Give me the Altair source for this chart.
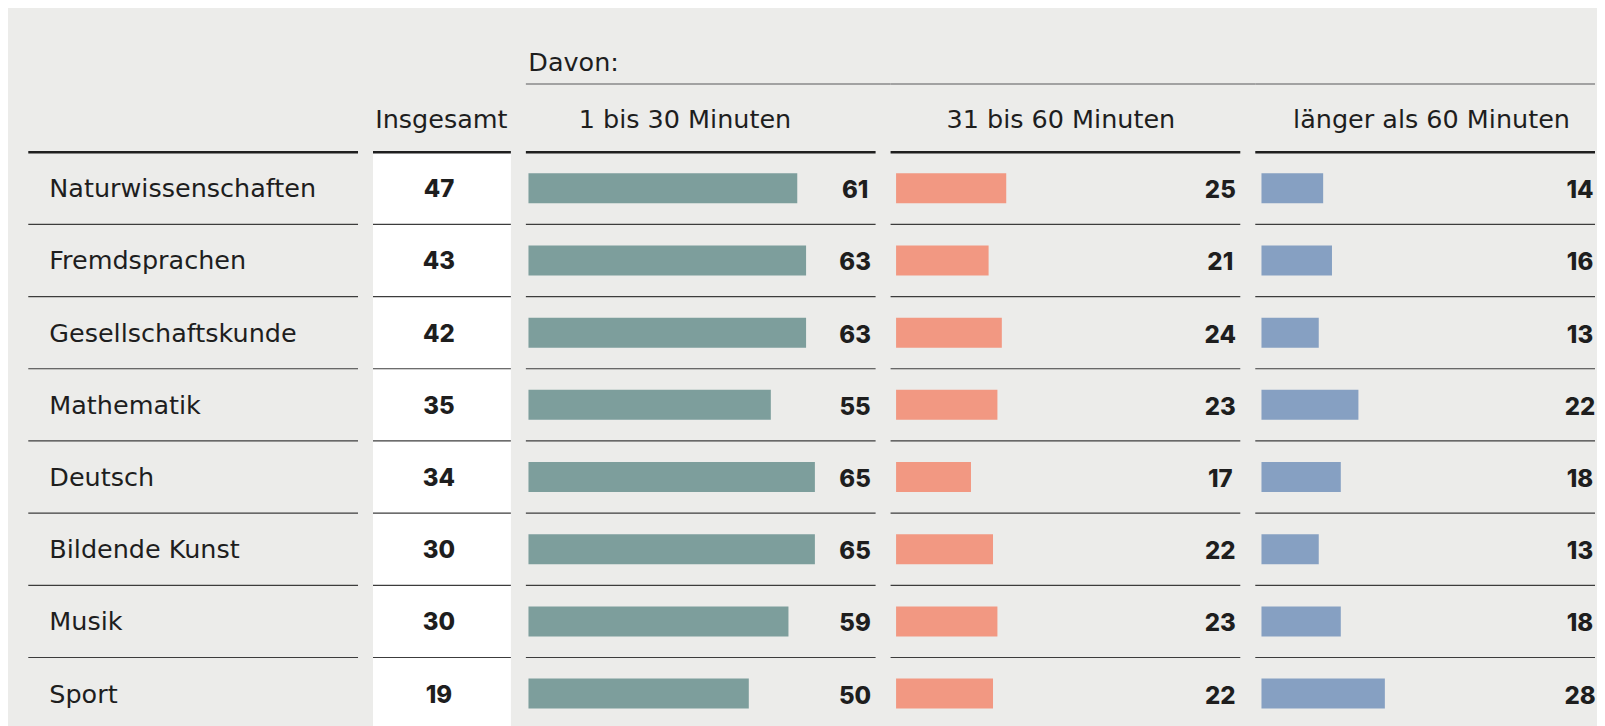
import altair as alt
import pandas as pd

# ---- data ----
subjects = ["Naturwissenschaften", "Fremdsprachen", "Gesellschaftskunde", "Mathematik",
            "Deutsch", "Bildende Kunst", "Musik", "Sport"]
insgesamt = [47, 43, 42, 35, 34, 30, 30, 19]
min_1_30 = [61, 63, 63, 55, 65, 65, 59, 50]
min_31_60 = [25, 21, 24, 23, 17, 22, 23, 22]
min_ueber_60 = [14, 16, 13, 22, 18, 13, 18, 28]
col_headers = ["Insgesamt", "1 bis 30 Minuten", "31 bis 60 Minuten", "länger als 60 Minuten"]
group_header = "Davon:"

df = pd.DataFrame({
    "fach": subjects,
    "gesamt": insgesamt,
    "v1": min_1_30,
    "v2": min_31_60,
    "v3": min_ueber_60,
})

# ---- styles ----
BG = "#ECECEA"
DARK = "#1f1f1f"
SEP = "#3c3c3c"
TXT = "#1e1e1e"
GREYLINE = "#8a8a8a"
TEAL = "#7D9E9C"
SALMON = "#F29882"
BLUE = "#86A0C2"
FONT = "DejaVu Sans"
NUMFONT = "Inter"
NUMWEIGHT = 800

H = 578
PX = 4.41          # pixels per percentage point
GAP = 15
W_LAB, W_INS, W_BAR, W_LAST = 330, 138, 350, 340
HEAD_Y = -24.2

yscale = alt.Scale(domain=subjects, paddingInner=0, paddingOuter=0)
Y = alt.Y("fach:N", sort=subjects, scale=yscale, axis=None)
Ysep = alt.Y("fach:N", sort=subjects, scale=yscale, axis=None, bandPosition=1)


def header_rule(W, header):
    return alt.Chart(pd.DataFrame({"kopf": [header]})).mark_rule(
        color=DARK, strokeWidth=2.6).encode(x=alt.value(0), x2=alt.value(W), y=alt.value(0))


def separators(W):
    return alt.Chart(df).mark_rule(color=SEP, strokeWidth=1.2).encode(
        x=alt.value(0), x2=alt.value(W), y=Ysep)


def header_text(header, hx):
    return alt.Chart(pd.DataFrame({"kopf": [header]})).mark_text(
        font=FONT, fontSize=25.5, color=TXT, align="center", baseline="alphabetic"
    ).encode(x=alt.value(hx), y=alt.value(HEAD_Y), text="kopf:N")


# ---- label panel ----
spacer = alt.Chart(pd.DataFrame({"kopf": [""]})).mark_rule(
    color=BG, strokeWidth=1).encode(x=alt.value(0), x2=alt.value(10), y=alt.value(-143))
labels = alt.Chart(df).mark_text(
    font=FONT, fontSize=25.5, color=TXT, align="left", baseline="alphabetic", dy=9
).encode(x=alt.value(21.0), y=Y, text="fach:N")
p_lab = alt.layer(spacer, header_rule(W_LAB, ""), separators(W_LAB), labels).properties(
    width=W_LAB, height=H)

# ---- Insgesamt panel ----
ins_vals = alt.Chart(df).mark_text(
    font=NUMFONT, fontSize=24, fontWeight=NUMWEIGHT, color=TXT, align="center",
    baseline="alphabetic", dy=9
).encode(x=alt.value(W_INS / 2 - 3), y=Y, text="gesamt:Q")
p_ins = alt.layer(header_rule(W_INS, col_headers[0]), separators(W_INS), ins_vals,
                  header_text(col_headers[0], 68.4)).properties(
    width=W_INS, height=H, view=alt.ViewBackground(fill="white", strokeWidth=0))


# ---- bar panels ----
def bar_panel(field, color, W, off, header, hx, extend, val_x, with_group=False):
    bars = alt.Chart(df).mark_bar(size=30, color=color).encode(
        x=alt.X(f"{field}:Q", axis=None,
                scale=alt.Scale(domain=[0, 80], range=[off, off + 80 * PX], nice=False)),
        y=Y)
    vals = alt.Chart(df).mark_text(
        font=NUMFONT, fontSize=24, fontWeight=NUMWEIGHT, color=TXT, align="center",
        baseline="alphabetic", dy=10
    ).encode(x=alt.value(val_x), y=Y, text=f"{field}:Q")
    gline = alt.Chart(pd.DataFrame({"kopf": [group_header]})).mark_rule(
        color=GREYLINE, strokeWidth=1.5).encode(
        x=alt.value(0), x2=alt.value(W + extend), y=alt.value(-68.2))
    layers = [header_rule(W, header), separators(W), bars, vals, gline, header_text(header, hx)]
    if with_group:
        layers.append(alt.Chart(pd.DataFrame({"kopf": [group_header]})).mark_text(
            font=FONT, fontSize=25.5, color=TXT, align="left", baseline="alphabetic"
        ).encode(x=alt.value(2.4), y=alt.value(-81.5), text="kopf:N"))
    return alt.layer(*layers).properties(width=W, height=H)


p1 = bar_panel("v1", TEAL, W_BAR, 2.6, col_headers[1], 159.2, GAP, W_BAR - 20.5, with_group=True)
p2 = bar_panel("v2", SALMON, W_BAR, 5.5, col_headers[2], 170.4, GAP, W_BAR - 20.0)
p3 = bar_panel("v3", BLUE, W_LAST, 6.2, col_headers[3], 176.4, 0, W_LAST - 15)

chart = alt.hconcat(p_lab, p_ins, p1, p2, p3, spacing=GAP, bounds="flush").resolve_scale(
    x="independent"
).properties(
    background=BG,
    padding={"left": 18.3, "top": 0, "right": 0, "bottom": 0},
).configure_view(strokeWidth=0)

chart.save("out.html", embed_options={"renderer": "svg", "actions": False})
